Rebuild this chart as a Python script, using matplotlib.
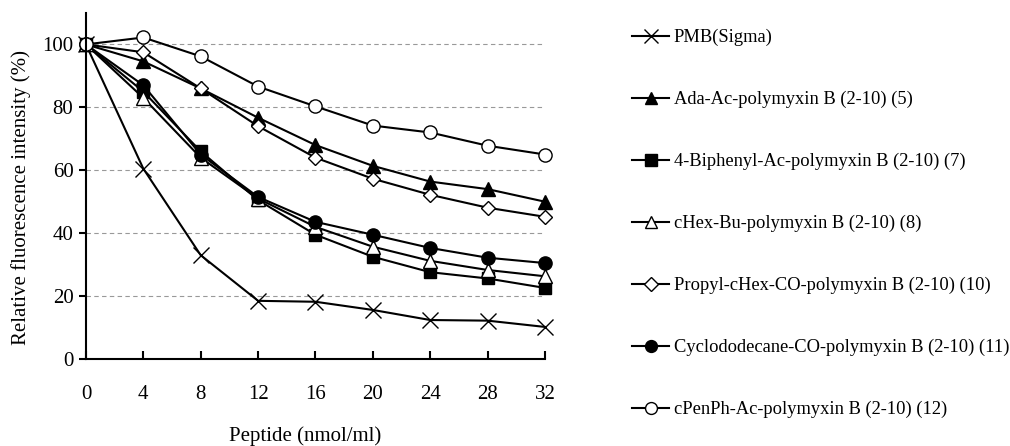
import matplotlib.pyplot as plt

plt.rcParams['font.family'] = ['Liberation Serif', 'DejaVu Serif']

x = [0, 4, 8, 12, 16, 20, 24, 28, 32]
labels = ["PMB(Sigma)",
          "Ada-Ac-polymyxin B (2-10) (5)",
          "4-Biphenyl-Ac-polymyxin B (2-10) (7)",
          "cHex-Bu-polymyxin B (2-10) (8)",
          "Propyl-cHex-CO-polymyxin B (2-10) (10)",
          "Cyclododecane-CO-polymyxin B (2-10) (11)",
          "cPenPh-Ac-polymyxin B (2-10) (12)"]
pmb = [100, 60.5, 33, 18.5, 18.2, 15.6, 12.4, 12.2, 10.2]
ada = [100, 94.6, 86, 76.7, 68, 61.4, 56.4, 54, 50]
biphenyl = [100, 85, 66, 50.5, 39.5, 32.5, 27.6, 25.6, 22.6]
chex = [100, 83, 64, 51, 42, 35.7, 31.2, 28.3, 26.3]
propyl = [100, 97.5, 86, 74, 64, 57.3, 52.2, 48.1, 45.2]
cyclo = [100, 87, 65, 51.5, 43.6, 39.5, 35.3, 32.2, 30.5]
cpenph = [100, 102.2, 96.2, 86.6, 80.3, 74.2, 72, 67.8, 65]

series = [pmb, ada, biphenyl, chex, propyl, cyclo, cpenph]
markers = ['x', '^', 's', '^', 'D', 'o', 'o']
faces = ['black', 'black', 'black', 'white', 'white', 'black', 'white']
sizes = [11, 9.5, 9, 9.5, 7.5, 9.5, 9.5]

fig = plt.figure(figsize=(10.1, 4.46), dpi=100)
ax = fig.add_axes([0.0851, 0.195, 0.4545, 0.776])

for ys, m, fc, ms, lab in zip(series, markers, faces, sizes, labels):
    ax.plot(x, ys, color='black', lw=1.5, marker=m, markersize=ms,
            markerfacecolor=fc, markeredgecolor='black', markeredgewidth=1.0,
            label=lab, clip_on=False)

ax.set_xlim(0, 32)
ax.set_ylim(0, 110)
ax.set_xticks(x)
ax.set_yticks([0, 20, 40, 60, 80, 100])
for g in [20, 40, 60, 80, 100]:
    ax.axhline(g, color='#999999', lw=0.8, ls=(0, (4, 3)), zorder=0)

ax.spines['top'].set_visible(False)
ax.spines['right'].set_visible(False)
ax.spines['left'].set_linewidth(1.5)
ax.spines['bottom'].set_linewidth(1.5)
ax.tick_params(axis='x', direction='in', length=6, width=1.5, pad=19, labelsize=15)
ax.tick_params(axis='y', direction='out', length=5, width=1.5, pad=4, labelsize=15)

ax.set_xlabel("Peptide (nmol/ml)", fontsize=15)
ax.xaxis.set_label_coords(0.477, -0.195)
ax.set_ylabel("Relative fluorescence intensity (%)", fontsize=15)
ax.yaxis.set_label_coords(-0.12, 0.467)

fig.legend(loc='upper left', bbox_to_anchor=(0.626, 0.935),
           bbox_transform=fig.transFigure, frameon=False, fontsize=13.3,
           labelspacing=2.42, handlelength=2.0, handletextpad=0.25,
           borderpad=0, borderaxespad=0, markerscale=0.9)

fig.savefig("out.png", dpi=100)
